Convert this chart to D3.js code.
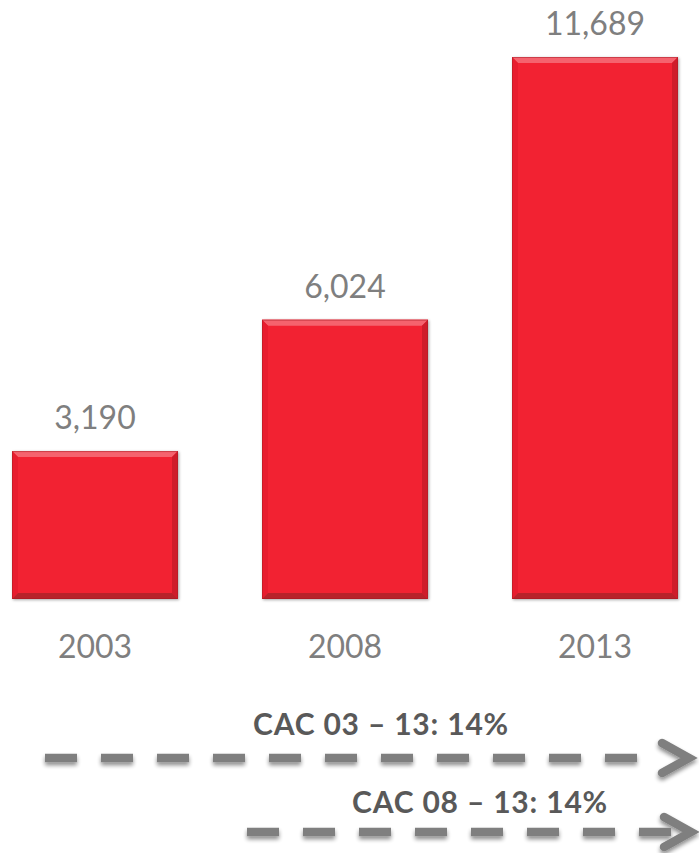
<!DOCTYPE html>
<html>
<head>
<meta charset="utf-8">
<script src="https://cdn.jsdelivr.net/npm/d3@7"></script>
<style>
  html, body { margin: 0; padding: 0; background: #fff; }
  svg { display: block; }
</style>
</head>
<body>
<svg id="chart" width="699" height="853"></svg>
<script>
// ---- data ----
const categories = ["2003", "2008", "2013"];
const values = [3190, 6024, 11689];
const valueLabels = ["3,190", "6,024", "11,689"];
const cagrLabels = ["CAC 03 \u2013 13: 14%", "CAC 08 \u2013 13: 14%"];
const cagrFrom = ["2003", "2008"];
const cagrTo = ["2013", "2013"];

// ---- layout ----
const W = 699, H = 853;
const svg = d3.select("#chart");

const x = d3.scaleBand().domain(categories).range([12, 678]).paddingInner(0.336).paddingOuter(0);
const y = d3.scaleLinear().domain([0, d3.max(values)]).range([599, 57]);

const defs = svg.append("defs");
const sh = defs.append("filter").attr("id", "shadow").attr("x", "-10%").attr("y", "-50%").attr("width", "120%").attr("height", "250%");
sh.append("feGaussianBlur").attr("in", "SourceAlpha").attr("stdDeviation", 2).attr("result", "b");
sh.append("feOffset").attr("in", "b").attr("dy", 3).attr("result", "o");
sh.append("feComponentTransfer").attr("in", "o").attr("result", "o2")
  .append("feFuncA").attr("type", "linear").attr("slope", 0.45);
const m = sh.append("feMerge");
m.append("feMergeNode").attr("in", "o2");
m.append("feMergeNode").attr("in", "SourceGraphic");

const bsh = defs.append("filter").attr("id", "barshadow").attr("x", "-5%").attr("y", "-5%").attr("width", "115%").attr("height", "115%");
bsh.append("feGaussianBlur").attr("in", "SourceAlpha").attr("stdDeviation", 1.5).attr("result", "b");
bsh.append("feOffset").attr("in", "b").attr("dx", 1).attr("dy", 1).attr("result", "o");
bsh.append("feComponentTransfer").attr("in", "o").attr("result", "o2")
  .append("feFuncA").attr("type", "linear").attr("slope", 0.35);
const m2 = bsh.append("feMerge");
m2.append("feMergeNode").attr("in", "o2");
m2.append("feMergeNode").attr("in", "SourceGraphic");

// ---- bars ----
const bev = 6;
const bars = svg.append("g").selectAll("g").data(categories).join("g").attr("filter", "url(#barshadow)");
bars.each(function(c, i) {
  const g = d3.select(this);
  const x0 = x(c), x1 = x(c) + x.bandwidth();
  const y0 = y(values[i]), y1 = y(0);
  g.append("rect").attr("x", x0).attr("y", y0).attr("width", x1 - x0).attr("height", y1 - y0)
    .attr("fill", "#f22333");
  g.append("path").attr("d", `M${x0},${y0}L${x1},${y0}L${x1 - bev},${y0 + bev}L${x0 + bev},${y0 + bev}Z`)
    .attr("fill", "#f5636e");
  g.append("path").attr("d", `M${x0},${y0}L${x0 + bev},${y0 + bev}L${x0 + bev},${y1 - bev}L${x0},${y1}Z`)
    .attr("fill", "#e81f2f");
  g.append("path").attr("d", `M${x1},${y0}L${x1},${y1}L${x1 - bev},${y1 - bev}L${x1 - bev},${y0 + bev}Z`)
    .attr("fill", "#cf1c2a");
  g.append("path").attr("d", `M${x0},${y1}L${x0 + bev},${y1 - bev}L${x1 - bev},${y1 - bev}L${x1},${y1}Z`)
    .attr("fill", "#b8202b");
  g.append("rect").attr("x", x0 + 0.5).attr("y", y0 + 0.5).attr("width", x1 - x0 - 1).attr("height", y1 - y0 - 1)
    .attr("fill", "none").attr("stroke", "#a51822").attr("stroke-opacity", 0.5).attr("stroke-width", 1);
});

// ---- value labels ----
svg.append("g").selectAll("text").data(categories).join("text")
  .attr("x", c => x(c) + x.bandwidth() / 2)
  .attr("y", (c, i) => y(values[i]) - 22)
  .attr("text-anchor", "middle")
  .attr("font-family", "Lato, 'Open Sans', sans-serif")
  .attr("font-size", 32)
  .attr("fill", "#7f7f7f")
  .text((c, i) => valueLabels[i]);

// ---- category labels ----
svg.append("g").selectAll("text").data(categories).join("text")
  .attr("x", c => x(c) + x.bandwidth() / 2)
  .attr("y", 658)
  .attr("text-anchor", "middle")
  .attr("font-family", "Lato, 'Open Sans', sans-serif")
  .attr("font-size", 32)
  .attr("fill", "#7f7f7f")
  .text(c => c);

// ---- CAGR arrows ----
const arrowY = [758, 832];
const textY = [735, 813];
const startX = [45, 247];
const endX = [650, 671];
const tipX = [693, 695];
const textX = [381, 480];
cagrLabels.forEach((lab, i) => {
  const g = svg.append("g").attr("filter", "url(#shadow)");
  const ay = arrowY[i];
  const xs = startX[i], xt = tipX[i];
  g.append("line")
    .attr("x1", xs).attr("x2", endX[i]).attr("y1", ay).attr("y2", ay)
    .attr("stroke", "#7f7f7f").attr("stroke-width", 8.5)
    .attr("stroke-dasharray", "32 24");
  g.append("path")
    .attr("d", `M${xt - 31},${ay - 15}L${xt - 4},${ay}L${xt - 31},${ay + 15}`)
    .attr("fill", "none").attr("stroke", "#7f7f7f").attr("stroke-width", 8.5)
    .attr("stroke-linecap", "round").attr("stroke-linejoin", "miter");
  svg.append("text")
    .attr("x", textX[i]).attr("y", textY[i])
    .attr("text-anchor", "middle")
    .attr("font-family", "Lato, 'Open Sans', sans-serif")
    .attr("font-weight", "bold")
    .attr("font-size", 30)
    .attr("letter-spacing", 0.8)
    .attr("fill", "#595959")
    .text(lab);
});
</script>
</body>
</html>
